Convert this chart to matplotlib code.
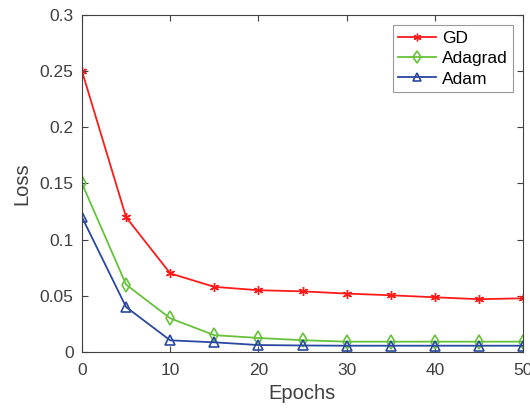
import matplotlib.pyplot as plt

plt.rcParams['font.family'] = ['Liberation Sans', 'DejaVu Sans']

epochs = [0, 5, 10, 15, 20, 25, 30, 35, 40, 45, 50]
gd = [0.25, 0.12, 0.07, 0.058, 0.055, 0.054, 0.052, 0.0505, 0.0487, 0.047, 0.0478]
adagrad = [0.15, 0.06, 0.03, 0.015, 0.0125, 0.0105, 0.0092, 0.0092, 0.0092, 0.0092, 0.0092]
adam = [0.12, 0.04, 0.0104, 0.0086, 0.0062, 0.0058, 0.0056, 0.0056, 0.0056, 0.0056, 0.0056]

grey = '#404040'
fig = plt.figure(figsize=(5.3, 4.12), dpi=100)
ax = fig.add_axes([82/530, 1 - 352/412, (523-82)/530, (352-15)/412])

ax.plot(epochs, gd, color='#FF1A1A', marker=(6, 2, 0), markersize=6.5, lw=1.3, label='GD')
ax.plot(epochs, adagrad, color='#66C23A', marker='d', markersize=7.5, markerfacecolor='none', mew=1.2, lw=1.3, label='Adagrad')
ax.plot(epochs, adam, color='#2A48A0', marker='^', markersize=7, markerfacecolor='none', mew=1.2, lw=1.3, label='Adam')

ax.set_xlim(0, 50)
ax.set_ylim(0, 0.3)
ax.set_xticks([0, 10, 20, 30, 40, 50])
ax.set_yticks([0, 0.05, 0.1, 0.15, 0.2, 0.25, 0.3])
ax.set_yticklabels(['0', '0.05', '0.1', '0.15', '0.2', '0.25', '0.3'])
ax.tick_params(direction='in', length=4, colors=grey, labelsize=12.5, top=True, right=True, labeltop=False, labelright=False)
ax.tick_params(axis='x', pad=8)
ax.tick_params(axis='y', pad=6)
for s in ax.spines.values():
    s.set_color(grey)
    s.set_linewidth(0.8)
for lab in ax.get_xticklabels() + ax.get_yticklabels():
    lab.set_color(grey)

ax.set_xlabel('Epochs', fontsize=14.5, color=grey, labelpad=4)
ax.set_ylabel('Loss', fontsize=14.5, color=grey, labelpad=6)

leg = ax.legend(loc='upper right', fontsize=12.5, frameon=True, fancybox=False, edgecolor='#808080',
                handlelength=2.2, borderaxespad=0.6, borderpad=0.3, labelspacing=0.3, handletextpad=0.3,
                markerscale=0.85)
leg.get_frame().set_linewidth(0.8)

fig.savefig('out.png', dpi=100)
